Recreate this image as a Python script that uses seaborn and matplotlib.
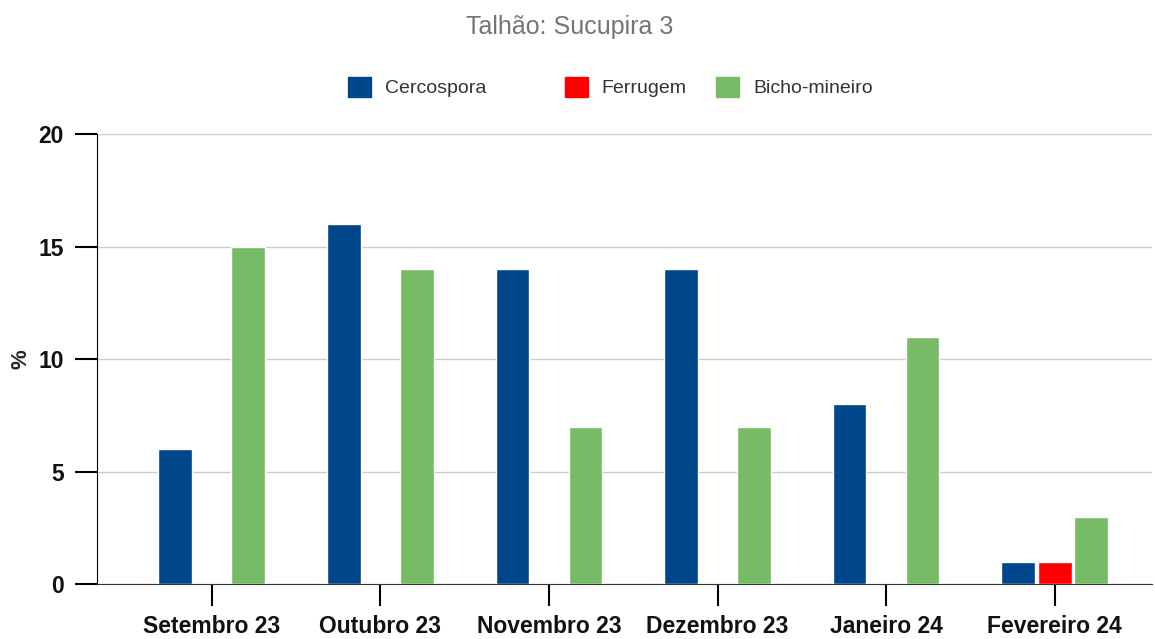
import pandas as pd
import matplotlib.pyplot as plt
import seaborn as sns
from matplotlib.patches import Patch

# data
months = ["Setembro 23", "Outubro 23", "Novembro 23", "Dezembro 23", "Janeiro 24", "Fevereiro 24"]
cercospora = [6, 16, 14, 14, 8, 1]
ferrugem = [0, 0, 0, 0, 0, 1]
bicho_mineiro = [15, 14, 7, 7, 11, 3]
series = ["Cercospora", "Ferrugem", "Bicho-mineiro"]
colors = ["#00468b", "#ff0000", "#78bb67"]

df = pd.DataFrame({
    "Mes": months * 3,
    "Praga": [s for s in series for _ in months],
    "Valor": cercospora + ferrugem + bicho_mineiro,
})

sns.set_style("white")
plt.rcParams["font.family"] = ["Liberation Sans", "DejaVu Sans"]

fig = plt.figure(figsize=(11.55, 6.39), dpi=100)
ax = fig.add_axes([0.084, 0.086, 0.913, 0.704])

sns.barplot(data=df, x="Mes", y="Valor", hue="Praga", hue_order=series,
            palette=colors, width=0.65, gap=0.08, saturation=1,
            legend=False, ax=ax, zorder=3)

ax.set_xlim(-0.68, 5.574)
ax.set_ylim(0, 20)
ax.set_yticks([0, 5, 10, 15, 20])
ax.grid(axis="y", color="#cccccc", linewidth=1, zorder=0)
ax.set_xlabel("")
ax.set_ylabel("%", fontsize=16, fontweight="bold", labelpad=5)

for side in ["top", "right"]:
    ax.spines[side].set_visible(False)
ax.spines["left"].set_color("black")
ax.spines["bottom"].set_color("#333333")
ax.tick_params(axis="both", bottom=True, left=True, length=16, width=1.5,
               color="black", direction="out")
ax.tick_params(axis="x", pad=6)
ax.tick_params(axis="y", pad=8)
for lbl in ax.get_xticklabels() + ax.get_yticklabels():
    lbl.set_fontsize(16.5)
    lbl.set_fontweight("bold")
    lbl.set_color("#111111")

fig.text(0.493, 0.957, "Talhão: Sucupira 3", ha="center", va="center",
         fontsize=18, color="#757575")

# legend entries sit at uneven spacing in the reference, one small legend each
legend_x = [0.301, 0.489, 0.620]
for name, c, lx in zip(series, colors, legend_x):
    leg = fig.legend([Patch(facecolor=c, edgecolor=c)], [name], loc="center left",
                     bbox_to_anchor=(lx, 0.864), frameon=False, fontsize=14,
                     handlelength=1.2, handleheight=1.2, handletextpad=0.7,
                     borderaxespad=0, borderpad=0, labelcolor="#333333")

fig.savefig("out.png", dpi=100)
